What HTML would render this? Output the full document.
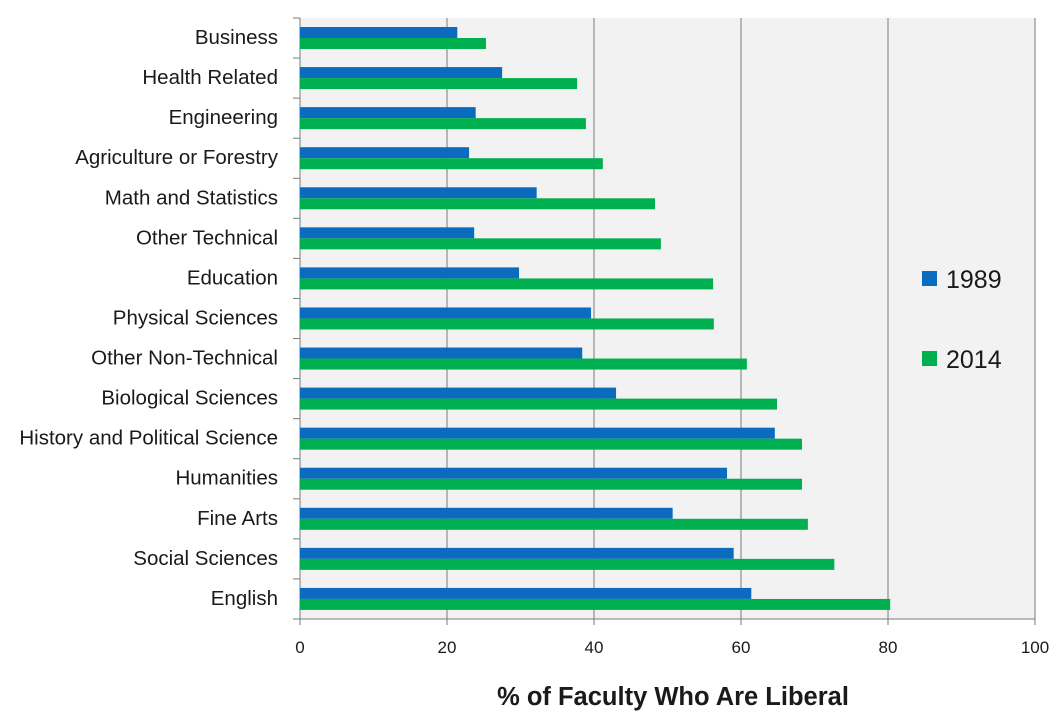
<!DOCTYPE html>
<html><head><meta charset="utf-8"><style>
body{margin:0;background:#fff;}
svg text{font-family:"Liberation Sans",sans-serif;fill:#1a1a1a;}
</style></head><body>
<svg width="1064" height="714" id="chart">
<g id="g"></g>
</svg>
<script>
const categories=["Business","Health Related","Engineering","Agriculture or Forestry","Math and Statistics","Other Technical","Education","Physical Sciences","Other Non-Technical","Biological Sciences","History and Political Science","Humanities","Fine Arts","Social Sciences","English"];
const values1989=[21.4,27.5,23.9,23,32.2,23.7,29.8,39.6,38.4,43,64.6,58.1,50.7,59,61.4];
const values2014=[25.3,37.7,38.9,41.2,48.3,49.1,56.2,56.3,60.8,64.9,68.3,68.3,69.1,72.7,80.3];
const xTicks=[0,20,40,60,80,100];
const NS="http://www.w3.org/2000/svg";
const g=document.getElementById('g');
const X0=300,X1=1035,Y0=18,Y1=619;
const band=(Y1-Y0)/categories.length;
const x=v=>X0+(v-0)/(100-0)*(X1-X0);
const yb=i=>Y0+i*band;
function mk(t,a){const e=document.createElementNS(NS,t);for(const k in a)e.setAttribute(k,a[k]);g.appendChild(e);return e;}
let e=mk('rect',{x:X0,y:Y0,width:X1-X0,height:Y1-Y0,fill:'#f2f2f2'});


xTicks.forEach(t=>{
 if(t>0){let l=mk('line',{x1:x(t),x2:x(t),y1:Y0,y2:Y1,stroke:'#7a7a7a','stroke-width':1});
 
 }
 let tk=mk('line',{x1:x(t),x2:x(t),y1:Y1,y2:Y1+6,stroke:'#7a7a7a'});
 
 
 let tx=mk('text',{x:x(t),y:Y1+34,'font-size':17,'text-anchor':'middle'});tx.textContent=t;
 
 
});
mk('line',{x1:X0,x2:X1,y1:Y1,y2:Y1,stroke:'#7a7a7a'});
let ax=mk('line',{x1:X0,x2:X0,y1:Y0,y2:Y1,stroke:'#7a7a7a'});


for(let i=0;i<=categories.length;i++){let t=mk('line',{x1:X0-7,x2:X0,y1:yb(i),y2:yb(i),stroke:'#7a7a7a'});
 
 }
categories.forEach((c,i)=>{
 const top=yb(i);
 let b=mk('rect',{x:X0,y:top+9,width:x(values1989[i])-X0,height:11,fill:'#0a6bbf'});
 
 
 let b2=mk('rect',{x:X0,y:top+20,width:x(values2014[i])-X0,height:11,fill:'#00b050'});
 
 
 let t=mk('text',{x:278,y:top+26,'font-size':20.5,'text-anchor':'end'});t.textContent=c;
 
 
});
[['1989','#0a6bbf',271],['2014','#00b050',351]].forEach(([n,col,y])=>{
 let r=mk('rect',{x:922,y:y,width:15,height:15,fill:col});
 
 
 let t=mk('text',{x:946,y:y+17,'font-size':25});t.textContent=n;
 
 
});
let tt=mk('text',{x:673,y:705,'font-size':25.5,'font-weight':'bold','text-anchor':'middle'});
tt.textContent='% of Faculty Who Are Liberal';


</script>
</body></html>
